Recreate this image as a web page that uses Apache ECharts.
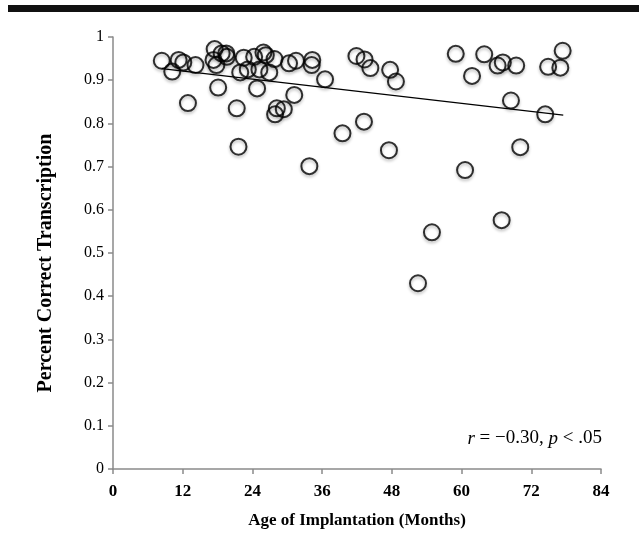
<!DOCTYPE html>
<html><head><meta charset="utf-8">
<script src="https://cdn.jsdelivr.net/npm/echarts@6/dist/echarts.min.js"></script>
<style>html,body{margin:0;padding:0;background:#fff}#c{width:639px;height:538px}</style>
</head><body><div id="c"></div>
<script>
// Age of implantation (months)
var ageMonths = [8.4,10.2,11.3,12.1,14.2,12.9,17.5,17.3,17.8,18.7,19.5,19.6,18.1,21.3,21.6,21.9,22.5,23.2,24.3,24.8,25.2,25.9,26.3,26.9,27.8,27.9,28.2,29.4,30.3,31.2,31.5,34.3,34.2,36.5,39.5,43.2,33.8,41.9,43.3,44.3,47.7,48.7,47.5,59.0,61.8,63.9,66.2,67.1,69.4,68.5,70.1,74.4,74.9,77.0,77.4,60.6,66.9,54.9,52.5];
// Percent correct transcription
var pctCorrect = [0.945,0.920,0.947,0.941,0.935,0.847,0.972,0.947,0.935,0.962,0.962,0.954,0.883,0.835,0.746,0.918,0.952,0.925,0.954,0.881,0.925,0.964,0.958,0.918,0.949,0.821,0.835,0.833,0.939,0.866,0.945,0.947,0.935,0.902,0.777,0.804,0.701,0.956,0.948,0.928,0.924,0.897,0.738,0.961,0.910,0.960,0.934,0.941,0.934,0.853,0.745,0.821,0.931,0.929,0.968,0.692,0.576,0.548,0.430];
// Trend line end points
var trendX = [8.4, 77.5];
var trendY = [0.927, 0.819];
var xTicks = [0,12,24,36,48,60,72,84];
var yTicks = [0,0.1,0.2,0.3,0.4,0.5,0.6,0.7,0.8,0.9,1];

var pts = ageMonths.map(function(x,i){return [x,pctCorrect[i]];});
var trend = trendX.map(function(x,i){return [x,trendY[i]];});
var serif = '"Liberation Serif","DejaVu Serif",serif';
var chart = echarts.init(document.getElementById('c'), null, {renderer:'canvas'});
chart.setOption({
  animation:false,
  grid:{left:113,right:38,top:37,bottom:69,containLabel:false,outerBoundsMode:'none'},
  xAxis:{type:'value',min:xTicks[0],max:xTicks[xTicks.length-1],interval:12,
    name:'Age of Implantation (Months)',nameLocation:'middle',nameGap:43,
    nameTextStyle:{fontFamily:serif,fontWeight:'bold',fontSize:17,color:'#000'},
    axisLine:{show:true,lineStyle:{color:'#8a8a8a',width:1.5}},
    axisTick:{show:true,length:5,lineStyle:{color:'#8a8a8a',width:1.5}},
    axisLabel:{fontFamily:serif,fontWeight:'bold',fontSize:17,color:'#000',margin:14},
    splitLine:{show:false}},
  yAxis:{type:'value',min:yTicks[0],max:yTicks[yTicks.length-1],interval:0.1,
    name:'Percent Correct Transcription',nameLocation:'middle',nameGap:57,nameRotate:90,
    nameTextStyle:{fontFamily:serif,fontWeight:'bold',fontSize:20,color:'#000',padding:[0,20,0,0]},
    axisLine:{show:true,lineStyle:{color:'#8a8a8a',width:1.5}},
    axisTick:{show:true,length:5,lineStyle:{color:'#8a8a8a',width:1.5}},
    axisLabel:{fontFamily:serif,fontSize:16,color:'#000',margin:9,
      formatter:function(v){return String(Math.round(v*10)/10);}},
    splitLine:{show:false}},
  series:[
    {type:'line',data:trend,symbol:'none',lineStyle:{color:'#000',width:1.3},z:1},
    {type:'scatter',data:pts,symbol:'circle',symbolSize:16,
     itemStyle:{color:'rgba(255,255,255,0)',borderColor:'#000',borderWidth:2,
       shadowColor:'rgba(0,0,0,0.35)',shadowBlur:3,shadowOffsetY:2},z:2}
  ],
  graphic:[
    {type:'rect',shape:{x:8,y:5,width:631,height:7},style:{fill:'#111'}},
    {type:'text',right:37,top:429,style:{
      text:'{i|r} = \u22120.30, {i|p} < .05',
      font:'19px '+serif,fill:'#000',
      rich:{i:{fontStyle:'italic',fontFamily:serif,fontSize:19}}}}
  ]
});
</script></body></html>
